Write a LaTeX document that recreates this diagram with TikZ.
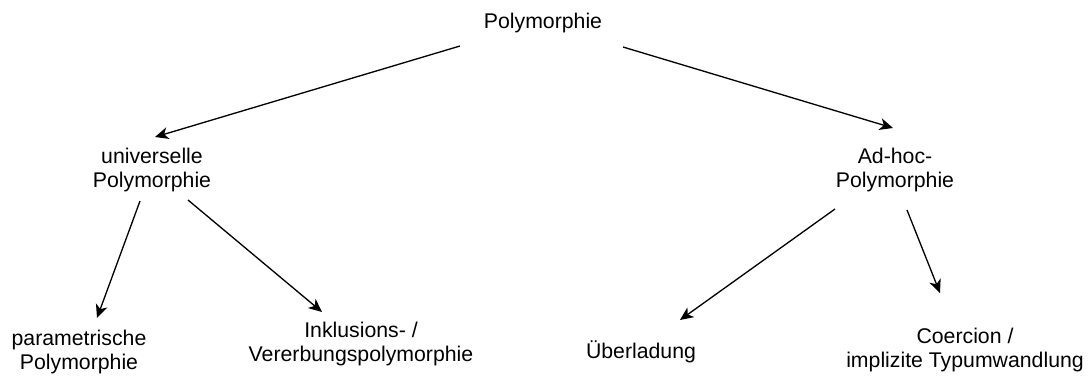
\documentclass[tikz,border=0pt]{standalone}
\usepackage{fontspec}
\setmainfont{Liberation Sans}
\usetikzlibrary{arrows.meta}

\begin{document}
\begin{tikzpicture}[x=0.02cm,y=-0.02cm,line width=0.75pt,>={Stealth[length=7.6pt,width=6.8pt,inset=2.2pt]},term/.style={align=center,inner sep=0pt,font=\fontsize{12.1}{13.7}\selectfont}]
	\useasboundingbox (0,0) rectangle (1090,376);
	\node[term] (poly)  at (543,23)  {Polymorphie};
	\node[term] (univ)  at (152,170) {universelle\\Polymorphie};
	\node[term] (adhoc) at (895,170) {Ad-hoc-\\Polymorphie};
	\node[term] (param) at (79,352)  {parametrische\\Polymorphie};
	\node[term] (inkl)  at (361,344) {Inklusions- /\\Vererbungspolymorphie};
	\node[term] (uber)  at (641,352) {Überladung};
	\node[term] (coer)  at (965,350) {Coercion /\\implizite Typumwandlung};
	\coordinate (poly-l)  at (460,46);  \coordinate (univ-in)  at (155,137);
	\coordinate (poly-r)  at (623,47);  \coordinate (adhoc-in) at (893,128);
	\coordinate (univ-l)  at (140,201); \coordinate (param-in) at (97,318);
	\coordinate (univ-r)  at (188,200); \coordinate (inkl-in)  at (322,312);
	\coordinate (adhoc-l) at (835,209); \coordinate (uber-in)  at (680,320);
	\coordinate (adhoc-r) at (907,210); \coordinate (coer-in)  at (940,293);
	\path[->]
		(poly-l) edge (univ-in)   (poly-r) edge (adhoc-in)
		(univ-l) edge (param-in)  (univ-r) edge (inkl-in)
		(adhoc-l) edge (uber-in)  (adhoc-r) edge (coer-in)
	; %-path-%
\end{tikzpicture}
\end{document}
